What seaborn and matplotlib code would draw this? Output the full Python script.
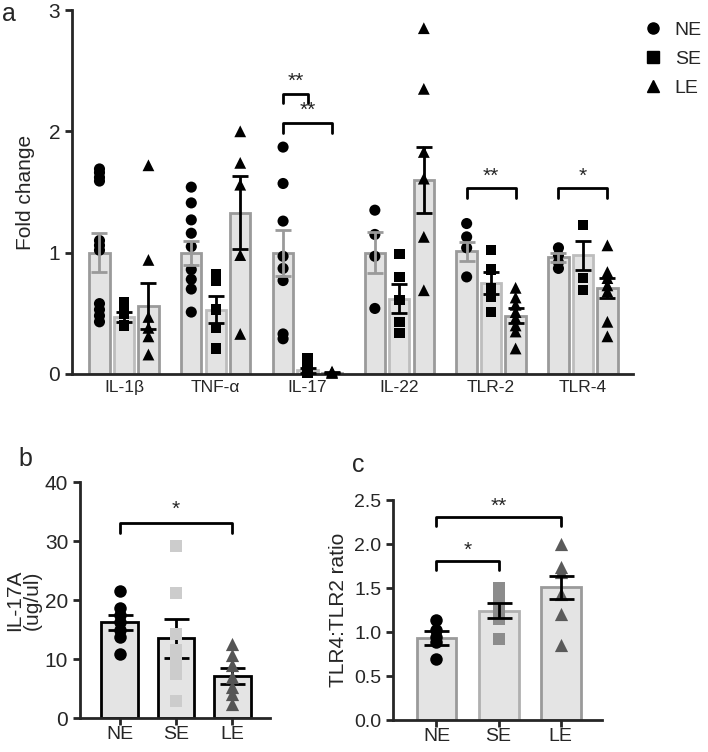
import numpy as np
import pandas as pd
import matplotlib
matplotlib.use('Agg')
import matplotlib.pyplot as plt
from matplotlib.lines import Line2D
import seaborn as sns

# panel a: fold change per gene
genes = ['IL-1β', 'TNF-α', 'IL-17', 'IL-22', 'TLR-2', 'TLR-4']
groups = ['NE', 'SE', 'LE']
mean_ne = [1.00, 1.00, 1.00, 1.00, 1.01, 0.96]
mean_se = [0.47, 0.53, 0.03, 0.62, 0.75, 0.98]
mean_le = [0.56, 1.33, 0.01, 1.60, 0.48, 0.71]
sem_ne = [0.16, 0.10, 0.19, 0.17, 0.08, 0.04]
sem_se = [0.04, 0.11, 0.02, 0.12, 0.09, 0.12]
sem_le = [0.19, 0.30, 0.005, 0.27, 0.06, 0.08]
pts_ne = [[1.69, 1.66, 1.62, 1.59, 1.10, 1.06, 1.02, 0.58, 0.53, 0.48, 0.43],
          [1.54, 1.41, 1.27, 1.16, 1.05, 0.86, 0.78, 0.70, 0.51],
          [1.87, 1.57, 1.26, 0.97, 0.87, 0.77, 0.33, 0.29],
          [1.35, 1.15, 0.97, 0.54],
          [1.24, 1.13, 1.04, 0.80],
          [1.04, 0.98, 0.92, 0.87]]
pts_se = [[0.59, 0.50, 0.40],
          [0.82, 0.77, 0.53, 0.38, 0.21],
          [0.13, 0.06, 0.02, 0.01],
          [0.99, 0.80, 0.61, 0.43, 0.34],
          [1.02, 0.86, 0.71, 0.64, 0.51],
          [1.23, 0.79, 0.69]]
pts_le = [[1.72, 0.94, 0.47, 0.38, 0.31, 0.16],
          [2.00, 1.74, 1.56, 0.98, 0.33],
          [0.02, 0.01, 0.01],
          [2.85, 2.35, 1.83, 1.61, 1.13, 0.69],
          [0.71, 0.63, 0.57, 0.51, 0.46, 0.40, 0.35, 0.21],
          [1.06, 0.84, 0.79, 0.73, 0.68, 0.43, 0.31]]

# panel b: IL-17A protein
b_mean = [16.2, 13.5, 7.1]
b_sem = [1.3, 3.3, 1.4]
b_ne = [21.5, 18.7, 17.5, 16.2, 15.0, 13.8, 10.8]
b_se = [29.2, 21.2, 14.2, 11.5, 9.5, 7.5, 2.8]
b_le = [12.5, 10.7, 9.0, 7.0, 5.3, 4.0, 2.3]

# panel c: TLR4:TLR2 ratio
c_mean = [0.93, 1.24, 1.51]
c_sem = [0.08, 0.085, 0.13]
c_ne = [1.14, 1.02, 0.94, 0.89, 0.69]
c_se = [1.50, 1.42, 1.33, 1.25, 1.15, 0.92]
c_le = [2.00, 1.74, 1.68, 1.43, 1.20, 0.85]

sns.set_style('ticks')
plt.rcParams['font.family'] = ['Liberation Sans', 'DejaVu Sans']
plt.rcParams['axes.linewidth'] = 2
plt.rcParams['xtick.major.width'] = 2
plt.rcParams['ytick.major.width'] = 2
plt.rcParams['xtick.major.size'] = 5
plt.rcParams['ytick.major.size'] = 5

markers = {'NE': 'o', 'SE': 's', 'LE': '^'}
msize = {'NE': 8, 'SE': 7.5, 'LE': 8.5}

fig = plt.figure(figsize=(7.08, 7.52), dpi=100)
ax_a = fig.add_axes([0.1017, 0.5027, 0.7923, 0.484])
ax_b = fig.add_axes([0.113, 0.0452, 0.268, 0.3138])
ax_c = fig.add_axes([0.555, 0.0425, 0.295, 0.2925])


def bracket(ax, x1, x2, y, leg, txt, ty, fs=15):
    ax.plot([x1, x1, x2, x2], [y - leg, y, y, y - leg], color='black', lw=2, clip_on=False)
    ax.text((x1 + x2) / 2, ty, txt, ha='center', va='center', fontsize=fs)


# ---- panel a ----
means = {'NE': mean_ne, 'SE': mean_se, 'LE': mean_le}
sems = {'NE': sem_ne, 'SE': sem_se, 'LE': sem_le}
pts = {'NE': pts_ne, 'SE': pts_se, 'LE': pts_le}

bar_df = pd.DataFrame([(g, grp, means[grp][i]) for grp in groups for i, g in enumerate(genes)],
                      columns=['gene', 'group', 'value'])
pt_df = pd.DataFrame([(g, grp, v) for grp in groups for i, g in enumerate(genes) for v in pts[grp][i]],
                     columns=['gene', 'group', 'value'])

sns.barplot(data=bar_df, x='gene', y='value', hue='group', order=genes, hue_order=groups,
            palette={'NE': '#e3e3e3', 'SE': '#e3e3e3', 'LE': '#e3e3e3'},
            width=0.8, gap=0.17, errorbar=None, legend=False, ax=ax_a)
edge_a = {'NE': '#9a9a9a', 'SE': '#bdbdbd', 'LE': '#9a9a9a'}
for cont, grp in zip(ax_a.containers, groups):
    for p in cont:
        p.set_edgecolor(edge_a[grp])
        p.set_linewidth(2)

for grp in groups:
    sns.stripplot(data=pt_df[pt_df['group'] == grp], x='gene', y='value', hue='group',
                  order=genes, hue_order=groups, palette={g: 'black' for g in groups},
                  dodge=True, jitter=False, marker=markers[grp], size=msize[grp],
                  linewidth=0, legend=False, zorder=3, clip_on=False, ax=ax_a)

offs = np.array([-0.8 / 3, 0, 0.8 / 3])
for k, grp in enumerate(groups):
    xs = np.arange(len(genes)) + offs[k]
    ax_a.errorbar(xs, means[grp], yerr=sems[grp], fmt='none',
                  ecolor='#9a9a9a' if grp == 'NE' else 'black',
                  elinewidth=2, capsize=6, capthick=2, zorder=4)

ax_a.set_xlim(-0.566, 5.545)
ax_a.set_ylim(0, 3)
ax_a.set_yticks([0, 1, 2, 3])
ax_a.tick_params(axis='x', length=0, labelsize=12.5, pad=4)
ax_a.tick_params(axis='y', labelsize=15)
ax_a.set_xlabel('')
ax_a.set_ylabel('Fold change', fontsize=15, labelpad=10)
sns.despine(ax=ax_a)

i17 = genes.index('IL-17')
bracket(ax_a, i17 + offs[0], i17 + offs[1], 2.31, 0.08, '**', 2.41)
bracket(ax_a, i17 + offs[0], i17 + offs[2], 2.07, 0.08, '**', 2.17)
t2 = genes.index('TLR-2')
bracket(ax_a, t2 + offs[0], t2 + offs[2], 1.53, 0.08, '**', 1.63)
t4 = genes.index('TLR-4')
bracket(ax_a, t4 + offs[0], t4 + offs[2], 1.53, 0.08, '*', 1.63)

handles = [Line2D([], [], ls='none', marker=markers[g], color='black', markersize=8) for g in groups]
fig.legend(handles, groups, loc='upper left', bbox_to_anchor=(0.912, 0.972), frameon=False,
           fontsize=14, handlelength=0.8, handletextpad=0.7, labelspacing=0.6,
           borderaxespad=0, borderpad=0)


# ---- panels b and c ----
def small_panel(ax, mean, sem, ne, se, le, colors, edges, err_top):
    bdf = pd.DataFrame({'group': groups, 'value': mean})
    sns.barplot(data=bdf, x='group', y='value', order=groups, color='#e4e4e4',
                width=0.64, errorbar=None, ax=ax)
    for p, ec in zip(ax.patches, edges):
        p.set_edgecolor(ec)
        p.set_linewidth(2)
    pdf = pd.DataFrame([(g, v) for g, vals in zip(groups, [ne, se, le]) for v in vals],
                       columns=['group', 'value'])
    for grp in groups:
        sns.stripplot(data=pdf[pdf['group'] == grp], x='group', y='value', order=groups,
                      color=colors[grp], jitter=False, marker=markers[grp], size=msize[grp] + 1,
                      linewidth=0, zorder=4 if not err_top else 3, ax=ax)
    ax.errorbar(np.arange(3), mean, yerr=sem, fmt='none', ecolor='black', elinewidth=2,
                capsize=9, capthick=2, zorder=3 if not err_top else 4)
    ax.set_xlim(-0.7, 2.66)
    ax.set_xlabel('')
    ax.tick_params(axis='x', labelsize=14, pad=1)
    ax.tick_params(axis='y', labelsize=15)
    sns.despine(ax=ax)


small_panel(ax_b, b_mean, b_sem, b_ne, b_se, b_le,
            {'NE': 'black', 'SE': '#cccccc', 'LE': '#555555'},
            ['black', 'black', 'black'], err_top=False)
ax_b.set_ylim(0, 40)
ax_b.set_yticks([0, 10, 20, 30, 40])
ax_b.set_ylabel('IL-17A\n(ug/ul)', fontsize=15, linespacing=0.95, labelpad=2)
bracket(ax_b, 0, 2, 33.0, 1.6, '*', 35.4)

small_panel(ax_c, c_mean, c_sem, c_ne, c_se, c_le,
            {'NE': 'black', 'SE': '#8c8c8c', 'LE': '#5a5a5a'},
            ['#9a9a9a', '#b0b0b0', '#9a9a9a'], err_top=True)
ax_c.set_ylim(0, 2.5)
ax_c.set_yticks([0, 0.5, 1.0, 1.5, 2.0, 2.5])
ax_c.set_yticklabels(['0.0', '0.5', '1.0', '1.5', '2.0', '2.5'])
ax_c.tick_params(axis='y', labelsize=14)
ax_c.set_ylabel('TLR4:TLR2 ratio', fontsize=15)
bracket(ax_c, 0, 1, 1.81, 0.1, '*', 1.93)
bracket(ax_c, 0, 2, 2.31, 0.1, '**', 2.43)

fig.text(0.003, 0.997, 'a', fontsize=18, va='top')
fig.text(0.026, 0.405, 'b', fontsize=18, va='top')
fig.text(0.497, 0.398, 'c', fontsize=18, va='top')

fig.savefig('out.png', dpi=100)
